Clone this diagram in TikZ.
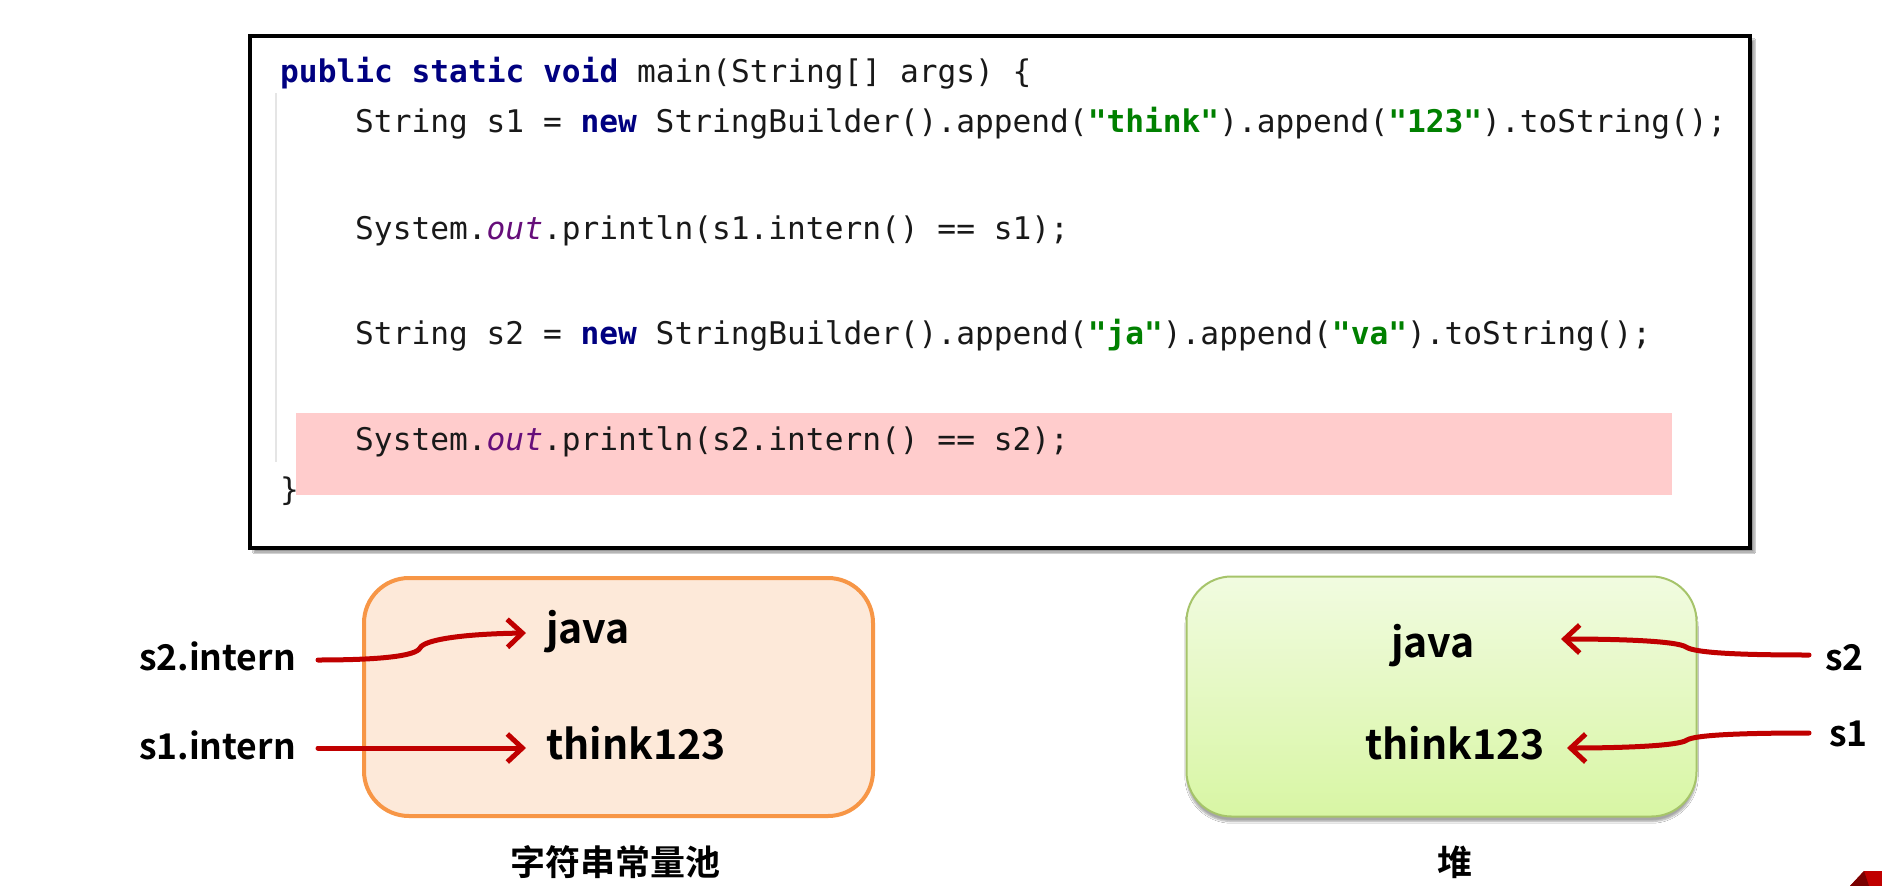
\documentclass[tikz,border=0pt]{standalone}
\usepackage{fontspec}
\usetikzlibrary{arrows.meta,shadows.blur}
\newfontfamily\codefont{DejaVu Sans Mono}
\newfontfamily\labfont{Noto Sans CJK SC}[BoldFont={* Bold}]
\definecolor{kw}{HTML}{000080}
\definecolor{strc}{HTML}{008000}
\definecolor{outc}{HTML}{660E7A}
\definecolor{hlpink}{HTML}{FFCCCC}
\definecolor{arrred}{HTML}{C00000}
\definecolor{darkred}{HTML}{7A0000}
\definecolor{poolor}{HTML}{F79646}
\definecolor{poolfill}{HTML}{FDE9D9}
\definecolor{heapgreen}{HTML}{A6C46A}
\definecolor{heaptop}{HTML}{F1FBE0}
\definecolor{heapbot}{HTML}{D8F6A4}
\newcommand{\kwd}[1]{{\bfseries\color{kw}#1}}
\newcommand{\strl}[1]{{\bfseries\color{strc}#1}}
\newcommand{\outf}[1]{{\itshape\color{outc}#1}}
\tikzset{
  codetxt/.style={anchor=base west, inner sep=0pt, text=black!90,
    font=\codefont\fontsize{31.2}{31.2}\selectfont},
  lab/.style={inner sep=0pt, text=black, font=\labfont\bfseries\fontsize{41}{41}\selectfont},
  labsm/.style={inner sep=0pt, text=black, font=\labfont\bfseries\fontsize{35.5}{35.5}\selectfont},
  cjklab/.style={inner sep=0pt, text=black, font=\labfont\bfseries\fontsize{35}{35}\selectfont},
  arr/.style={draw=arrred, line width=5pt, line cap=round, line join=round,
    -{Straight Barb[length=15pt,width=28pt]}},
  codebox/.style={draw=black, line width=4pt, fill=white, inner sep=0pt,
    minimum width=1500pt, minimum height=512pt,
    blur shadow={shadow xshift=4pt, shadow yshift=-4pt, shadow blur steps=6, shadow opacity=45}},
  poolbox/.style={draw=poolor, line width=4pt, fill=poolfill, rounded corners=45pt,
    inner sep=0pt, minimum width=509pt, minimum height=238pt},
  heapbox/.style={draw=heapgreen, line width=2pt, top color=heaptop, bottom color=heapbot,
    rounded corners=45pt, inner sep=0pt, minimum width=510pt, minimum height=240pt,
    blur shadow={shadow xshift=0pt, shadow yshift=-5pt, shadow blur steps=6, shadow opacity=35}},
}
\begin{document}
\begin{tikzpicture}[x=1pt,y=-1pt]
\useasboundingbox (0,0) rectangle (1882,886);
\fill[white] (0,0) rectangle (1882,886);

% code box
\node[codebox] (code) at (1000,292) {};
\node[fill=hlpink, inner sep=0pt, minimum width=1376pt, minimum height=82pt] (hl) at (984,454) {};
\draw[black!10, line width=1.5pt] (276,93) -- (276,462);

\node[codetxt] (c1) at (280,82) {\kwd{public static void} main(String[] args) \{};
\node[codetxt] (c2) at (355,132) {String s1 = \kwd{new} StringBuilder().append(\strl{"think"}).append(\strl{"123"}).toString();};
\node[codetxt] (c3) at (355,239) {System.\outf{out}.println(s1.intern() == s1);};
\node[codetxt] (c4) at (355,344) {String s2 = \kwd{new} StringBuilder().append(\strl{"ja"}).append(\strl{"va"}).toString();};
\node[codetxt] (c5) at (355,450) {System.\outf{out}.println(s2.intern() == s2);};
\node[codetxt] (c6) at (280,500) {\}};

% boxes
\node[poolbox] (pool) at (618.5,697) {};
\node[heapbox] (heap) at (1441.5,696.5) {};

% texts
\node[labsm, anchor=base east] (s2i) at (296,670) {s2.intern};
\node[labsm, anchor=base east] (s1i) at (296,759) {s1.intern};
\node[lab, anchor=base west] (pjava) at (546,643) {java};
\node[lab, anchor=base west] (pthink) at (546,759) {think123};
\node[lab, anchor=base] (hjava) at (1433,657) {java};
\node[lab, anchor=base] (hthink) at (1455,759) {think123};
\node[labsm, anchor=base west] (s2) at (1825,670) {s2};
\node[labsm, anchor=base west] (s1) at (1829,746) {s1};
\node[cjklab] (poollab) at (615,862) {字符串常量池};
\node[cjklab] (heaplab) at (1455,862) {堆};

% arrows
\draw[arr] ([shift={(22pt,11pt)}]s1i.base east) -- ([shift={(-20pt,11pt)}]pthink.base west);
\draw[arr] ([shift={(22pt,10pt)}]s2i.base east) .. controls (380,660) and (416,656) .. (420,648)
   .. controls (424,640) and (460,634) .. ([shift={(-20pt,10pt)}]pjava.base west);
\draw[arr] ([shift={(-16pt,15pt)}]s2.base west) .. controls (1740,655) and (1695,653) .. (1686,647)
   .. controls (1677,641) and (1620,639) .. ([shift={(128pt,18pt)}]hjava.base);
\draw[arr] ([shift={(-20pt,13pt)}]s1.base west) .. controls (1740,733) and (1695,735) .. (1687,740)
   .. controls (1679,746) and (1620,748) .. ([shift={(112pt,11pt)}]hthink.base);

% corner decoration
\fill[arrred] (1850,886) -- (1864,871) -- (1882,871) -- (1882,886) -- cycle;
\fill[darkred] (1850,886) -- (1864,871) -- (1869,886) -- cycle;
\end{tikzpicture}
\end{document}
